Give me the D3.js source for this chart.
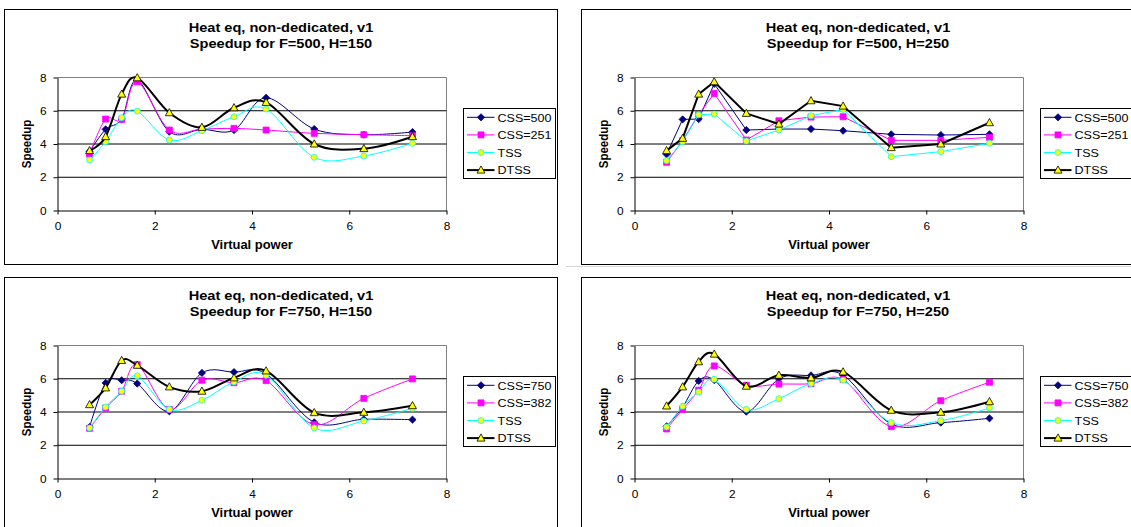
<!DOCTYPE html>
<html>
<head>
<meta charset="utf-8">
<script src="https://cdn.jsdelivr.net/npm/d3@7"></script>
<style>
  body { margin: 0; background: #fff; }
  svg { display: block; }
  text { font-family: "Liberation Sans", Arial, sans-serif; fill: #000; }
</style>
</head>
<body>
<svg id="chart" width="1131" height="527"></svg>
<script>
// virtual power of each run (shared x values)
const xPower = [0.66, 0.99, 1.32, 1.64, 2.30, 2.97, 3.63, 4.29, 5.28, 6.30, 7.30];
const axisTicks = [0, 2, 4, 6, 8];

const titleLine1 = 'Heat eq, non-dedicated, v1';
const subTitles = [
    'Speedup for F=500, H=150',
    'Speedup for F=500, H=250',
    'Speedup for F=750, H=150',
    'Speedup for F=750, H=250'
];
const namesF500 = ['CSS=500', 'CSS=251', 'TSS', 'DTSS'];
const namesF750 = ['CSS=750', 'CSS=382', 'TSS', 'DTSS'];

// F=500, H=150
const css500H150 = [3.55, 4.88, 5.5, 7.84, 4.74, 4.88, 4.84, 6.78, 4.9, 4.56, 4.72];
const css251H150 = [3.38, 5.5, 5.48, 7.74, 4.84, 4.9, 4.94, 4.84, 4.64, 4.56, 4.5];
const tssF500H150 = [3.04, 4.14, 5.58, 5.98, 4.24, 4.8, 5.64, 6.1, 3.2, 3.28, 4.04];
const dtssF500H150 = [3.6, 4.44, 7.0, 7.98, 5.88, 5.0, 6.18, 6.5, 4.0, 3.72, 4.44];

// F=500, H=250
const css500H250 = [3.38, 5.48, 5.5, 7.62, 4.84, 4.9, 4.9, 4.8, 4.58, 4.54, 4.58];
const css251H250 = [2.9, 4.2, 5.78, 7.04, 4.24, 5.4, 5.62, 5.64, 4.22, 4.22, 4.4];
const tssF500H250 = [3.0, 4.14, 5.76, 5.8, 4.18, 4.84, 5.7, 6.08, 3.24, 3.54, 4.04];
const dtssF500H250 = [3.6, 4.34, 7.0, 7.74, 5.84, 5.2, 6.6, 6.28, 3.78, 4.0, 5.28];

// F=750, H=150
const css750H150 = [3.1, 5.75, 5.91, 5.71, 4.04, 6.35, 6.4, 6.3, 3.38, 3.56, 3.54];
const css382H150 = [3.02, 4.24, 5.25, 6.85, 4.16, 5.91, 5.76, 5.89, 3.24, 4.82, 5.99];
const tssF750H150 = [3.04, 4.3, 5.25, 6.17, 4.16, 4.7, 5.81, 6.21, 3.04, 3.46, 4.22];
const dtssF750H150 = [4.44, 5.45, 7.1, 6.81, 5.51, 5.25, 6.05, 6.47, 3.96, 3.98, 4.38];

// F=750, H=250
const css750H250 = [3.14, 4.3, 5.87, 5.92, 4.02, 6.0, 6.2, 6.22, 3.28, 3.36, 3.62];
const css382H250 = [2.98, 4.16, 5.31, 6.77, 5.61, 5.68, 5.7, 5.95, 3.12, 4.68, 5.79];
const tssF750H250 = [3.1, 4.34, 5.21, 5.97, 4.16, 4.8, 5.71, 5.91, 3.36, 3.48, 4.24];
const dtssF750H250 = [4.36, 5.51, 7.02, 7.48, 5.55, 6.21, 6.05, 6.41, 4.1, 3.98, 4.62];

const panels = [
    { sub: subTitles[0], names: namesF500, series: [css500H150, css251H150, tssF500H150, dtssF500H150], smooth: true, dx: 0, dy: 0 },
    { sub: subTitles[1], names: namesF500, series: [css500H250, css251H250, tssF500H250, dtssF500H250], smooth: false, dx: 577, dy: 0 },
    { sub: subTitles[2], names: namesF750, series: [css750H150, css382H150, tssF750H150, dtssF750H150], smooth: true, dx: 0, dy: 268 },
    { sub: subTitles[3], names: namesF750, series: [css750H250, css382H250, tssF750H250, dtssF750H250], smooth: true, dx: 577, dy: 268 }
];

const seriesStyles = [
    { stroke: '#000080', width: 1, marker: 'diamond', fill: '#000080', mStroke: '#000080' },
    { stroke: '#ff00ff', width: 1, marker: 'square', fill: '#ff00ff', mStroke: '#ff00ff' },
    { stroke: '#00ffff', width: 1, marker: 'circle', fill: '#ffff00', mStroke: '#00ffff' },
    { stroke: '#000000', width: 2, marker: 'triangle', fill: '#ffff00', mStroke: '#000000' }
];

const markerPaths = {
    diamond: 'M0,-3.6L3.6,0L0,3.6L-3.6,0Z',
    square: 'M-3,-3H3V3H-3Z',
    circle: 'M3,0A3,3 0 1,1 -3,0A3,3 0 1,1 3,0Z',
    triangle: 'M0,-4.2L4,3L-4,3Z'
};

const layout = {
    frame: { x0: 4.5, x1: 557.5, y0: 9.5, y1: 264.5 },
    plot: { x0: 57.5, x1: 446.5, y0: 77.5, y1: 210.5 },
    legend: { x: 463.5, y: 108.5, w: 92, h: 70, row0: 117.3, rowStep: 17.6 },
    stretch: 1.08
};

const svg = d3.select('#chart');

function addText(g, str, x, y, size, opts = {}) {
    let tf = `translate(${x},${y}) scale(${layout.stretch},1)`;
    if (opts.rotate) tf += ' rotate(-90)';
    return g.append('text')
        .attr('transform', tf)
        .attr('text-anchor', opts.anchor || 'start')
        .attr('font-weight', opts.bold ? 'bold' : 'normal')
        .style('font-size', `${size}px`)
        .text(str);
}

function drawPanel(p) {
    const g = svg.append('g').attr('transform', `translate(${p.dx},${p.dy})`);
    const f = layout.frame;
    const pl = layout.plot;

    g.append('rect')
        .attr('x', f.x0).attr('y', f.y0)
        .attr('width', f.x1 - f.x0).attr('height', f.y1 - f.y0)
        .attr('fill', '#fff').attr('stroke', '#000');

    const cx = (f.x0 + f.x1) / 2;
    addText(g, titleLine1, cx, 31.5, 13.5, { bold: true, anchor: 'middle' });
    addText(g, p.sub, cx, 48.2, 13.5, { bold: true, anchor: 'middle' });

    const x = d3.scaleLinear().domain([0, 8]).range([pl.x0, pl.x1]);
    const y = d3.scaleLinear().domain([0, 8]).range([pl.y1, pl.y0]);

    // grey plot border on top/right
    g.append('path')
        .attr('d', `M${pl.x0},${pl.y0}H${pl.x1}V${pl.y1}`)
        .attr('fill', 'none').attr('stroke', '#808080');

    // gridlines
    g.selectAll('.grid')
        .data([2, 4, 6])
        .enter()
        .append('line')
        .attr('x1', pl.x0).attr('x2', pl.x1)
        .attr('y1', (d) => y(d)).attr('y2', (d) => y(d))
        .attr('stroke', '#000');

    const xAxis = g.append('g')
        .attr('transform', `translate(0,${pl.y1})`)
        .call(d3.axisBottom(x).tickValues(axisTicks).tickSize(4).tickSizeOuter(0).tickPadding(7.5));
    const yAxis = g.append('g')
        .attr('transform', `translate(${pl.x0},0)`)
        .call(d3.axisLeft(y).tickValues(axisTicks).tickSize(4).tickSizeOuter(0).tickPadding(6));
    [xAxis, yAxis].forEach((a) => {
        a.select('.domain').attr('stroke', '#000');
        a.selectAll('line').attr('stroke', '#000');
        a.selectAll('text')
            .attr('transform', `scale(${layout.stretch},1)`)
            .style('font-size', '11px')
            .attr('font-family', null);
    });

    addText(g, 'Virtual power', (pl.x0 + pl.x1) / 2, 249.3, 12, { bold: true, anchor: 'middle' });
    addText(g, 'Speedup', 31, (pl.y0 + pl.y1) / 2, 11.5, { bold: true, anchor: 'middle', rotate: true });

    const line = d3.line()
        .x((d, i) => x(xPower[i]))
        .y((d) => y(d))
        .curve(p.smooth ? d3.curveCatmullRom.alpha(0) : d3.curveLinear);

    p.series.forEach((vals, si) => {
        const st = seriesStyles[si];
        g.append('path')
            .datum(vals)
            .attr('d', line)
            .attr('fill', 'none')
            .attr('stroke', st.stroke)
            .attr('stroke-width', st.width);
        g.selectAll(null)
            .data(vals)
            .enter()
            .append('path')
            .attr('d', markerPaths[st.marker])
            .attr('transform', (d, i) => `translate(${x(xPower[i])},${y(d)})`)
            .attr('fill', st.fill)
            .attr('stroke', st.mStroke)
            .attr('stroke-width', 0.8);
    });

    // legend
    const L = layout.legend;
    g.append('rect')
        .attr('x', L.x).attr('y', L.y).attr('width', L.w).attr('height', L.h)
        .attr('fill', '#fff').attr('stroke', '#000');
    p.names.forEach((name, i) => {
        const st = seriesStyles[i];
        const ry = L.row0 + i * L.rowStep;
        g.append('line')
            .attr('x1', L.x + 3.5).attr('x2', L.x + 31)
            .attr('y1', ry).attr('y2', ry)
            .attr('stroke', st.stroke).attr('stroke-width', st.width);
        g.append('path')
            .attr('d', markerPaths[st.marker])
            .attr('transform', `translate(${L.x + 17.5},${ry})`)
            .attr('fill', st.fill).attr('stroke', st.mStroke).attr('stroke-width', 0.8);
        addText(g, name, L.x + 34, ry + 4.2, 11.6);
    });
}

panels.forEach(drawPanel);

// faint separator above the lower-right chart
svg.append('line')
    .attr('x1', 566).attr('x2', 1131)
    .attr('y1', 266.5).attr('y2', 266.5)
    .attr('stroke', '#d8d8d8');
</script>
</body>
</html>
